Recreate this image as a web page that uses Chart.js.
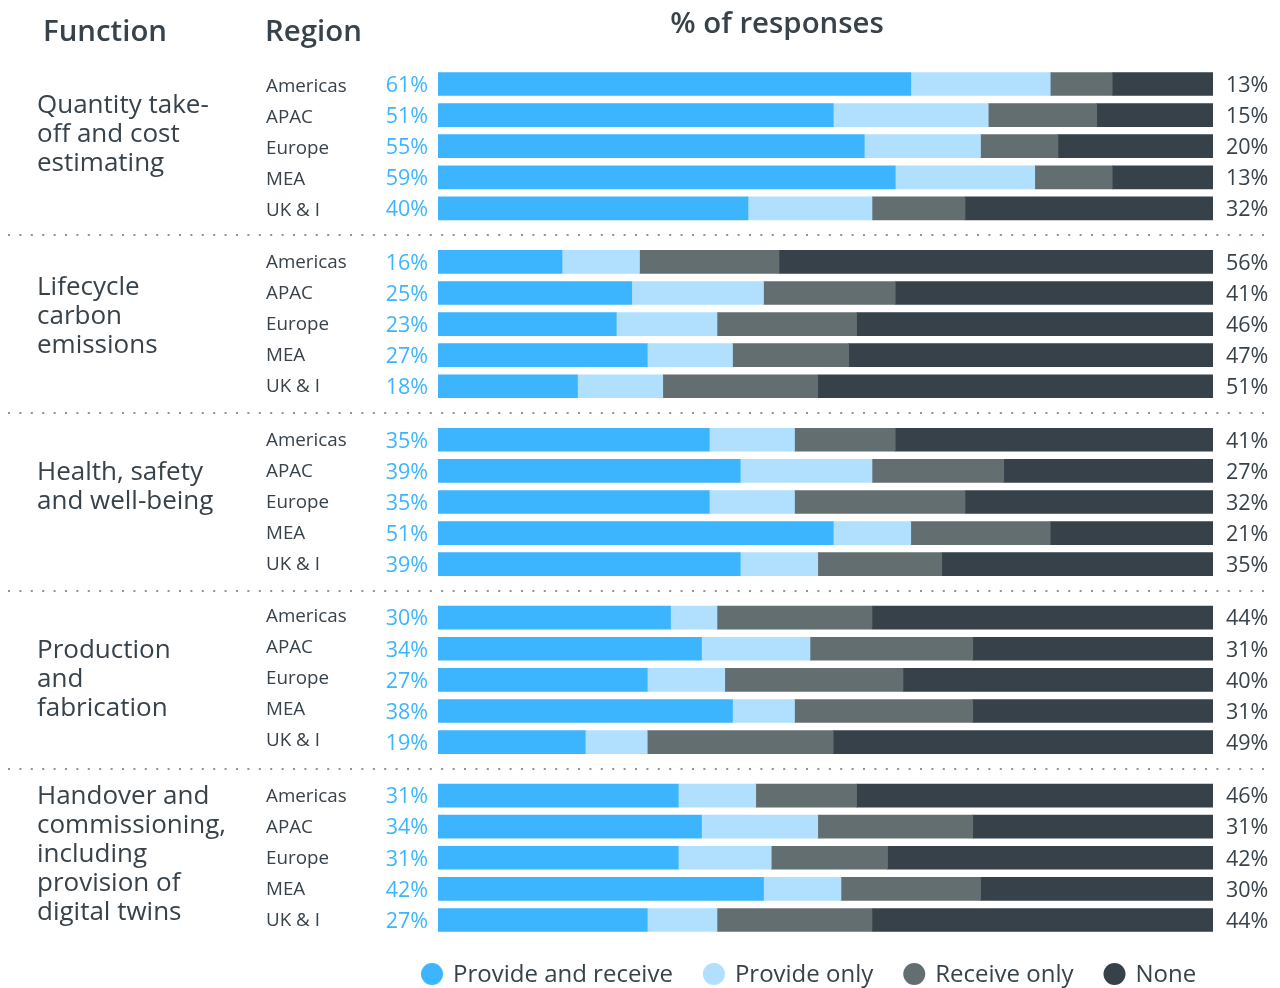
<!DOCTYPE html>
<html>
<head>
<meta charset="utf-8">
<title>% of responses by function and region</title>
<script src="https://cdn.jsdelivr.net/npm/chart.js@4.4.1/dist/chart.umd.min.js"></script>
<style>
  html, body { margin: 0; padding: 0; background: #ffffff; }
  canvas { display: block; }
</style>
</head>
<body>
<canvas id="chart" width="1280" height="988"></canvas>
<script>
// ---- Data ----
const regions = ['Americas', 'APAC', 'Europe', 'MEA', 'UK & I'];

const functionLabels = [
  ['Quantity take-', 'off and cost', 'estimating'],
  ['Lifecycle', 'carbon', 'emissions'],
  ['Health, safety', 'and well-being'],
  ['Production', 'and', 'fabrication'],
  ['Handover and', 'commissioning,', 'including', 'provision of', 'digital twins']
];

const seriesNames = ['Provide and receive', 'Provide only', 'Receive only', 'None'];

// one value per row: 5 functions x 5 regions, in reading order
const provideAndReceive = [61, 51, 55, 59, 40,  16, 25, 23, 27, 18,  35, 39, 35, 51, 39,  30, 34, 27, 38, 19,  31, 34, 31, 42, 27];
const provideOnly       = [18, 20, 15, 18, 16,  10, 17, 13, 11, 11,  11, 17, 11, 10, 10,   6, 14, 10,  8,  8,  10, 15, 12, 10,  9];
const receiveOnly       = [ 8, 14, 10, 10, 12,  18, 17, 18, 15, 20,  13, 17, 22, 18, 16,  20, 21, 23, 23, 24,  13, 20, 15, 18, 20];
const noneValues        = [13, 15, 20, 13, 32,  56, 41, 46, 47, 51,  41, 27, 32, 21, 35,  44, 31, 40, 31, 49,  46, 31, 42, 30, 44];

// ---- Styling / layout ----
const COLORS = ['#3db5fe', '#b0e0fd', '#636e70', '#36414a'];
const TEXT = '#37424a';
const BLUE_TEXT = '#3db5fe';
const FONT = "'Open Sans', 'Noto Sans', sans-serif";

const GROUP_STEP = 5.72;        // distance between the first rows of two functions (in row units)
const ROW_PX = 31.1;            // pixels per row unit
const TOP_ROW_Y = 84;           // centre of the first bar
const nGroups = functionLabels.length;
const nRegions = regions.length;

const rowPos = (g, r) => g * GROUP_STEP + r;
const positions = [];
for (let g = 0; g < nGroups; g++) for (let r = 0; r < nRegions; r++) positions.push(rowPos(g, r));

const Y_MIN = -0.5;
const Y_MAX = rowPos(nGroups - 1, nRegions - 1) + 0.5;
const PAD_TOP = TOP_ROW_Y - 0.5 * ROW_PX;
const PAD_BOTTOM = 988 - PAD_TOP - (Y_MAX - Y_MIN) * ROW_PX;

// baseline of first line of each function label, relative to its first bar centre
const FUNCTION_LABEL_OFFSET = [29, 33, 40, 40, 8];
const FUNCTION_LINE_H = 29.2;
// baseline of region names, relative to the bar centre, per function block
const REGION_BASELINE = [8, 6, 6, 4, 6];

const seriesValues = [provideAndReceive, provideOnly, receiveOnly, noneValues];

const datasets = seriesValues.map((vals, k) => ({
  label: seriesNames[k],
  data: vals.map((v, i) => ({ x: v, y: positions[i] })),
  backgroundColor: COLORS[k],
  borderWidth: 0,
  barThickness: 23,
  stack: 'responses'
}));

const annotate = {
  id: 'annotate',
  beforeDatasetsDraw(chart) {
    const ctx = chart.ctx;
    const y = chart.scales.y;
    ctx.save();
    ctx.strokeStyle = '#8d959b';
    ctx.lineWidth = 2;
    ctx.setLineDash([2, 9.4]);
    for (let g = 0; g < nGroups - 1; g++) {
      const py = Math.round(y.getPixelForValue((rowPos(g, nRegions - 1) + rowPos(g + 1, 0)) / 2));
      ctx.beginPath();
      ctx.moveTo(8, py);
      ctx.lineTo(1270, py);
      ctx.stroke();
    }
    ctx.restore();
  },
  afterDraw(chart) {
    const ctx = chart.ctx;
    const y = chart.scales.y;
    ctx.save();
    ctx.textBaseline = 'alphabetic';

    // headers
    ctx.fillStyle = TEXT;
    ctx.font = `600 29.4px ${FONT}`;
    ctx.textAlign = 'left';
    ctx.fillText('Function', 43, 41);
    ctx.fillText('Region', 265, 41);
    ctx.textAlign = 'center';
    ctx.fillText('% of responses', 777, 33);

    // function labels
    ctx.textAlign = 'left';
    ctx.font = `400 26px ${FONT}`;
    functionLabels.forEach((lines, g) => {
      const base = y.getPixelForValue(rowPos(g, 0)) + FUNCTION_LABEL_OFFSET[g];
      lines.forEach((t, j) => ctx.fillText(t, 37, base + j * FUNCTION_LINE_H));
    });

    // region labels, left and right percentages
    const pctSize = 21.5;
    positions.forEach((p, i) => {
      const py = y.getPixelForValue(p);
      const g = Math.floor(i / nRegions);
      ctx.fillStyle = TEXT;
      ctx.textAlign = 'left';
      ctx.font = `400 18.8px ${FONT}`;
      ctx.fillText(regions[i % nRegions], 266, py + REGION_BASELINE[g]);

      ctx.font = `400 ${pctSize}px ${FONT}`;
      ctx.fillStyle = BLUE_TEXT;
      ctx.textAlign = 'right';
      ctx.fillText(provideAndReceive[i] + '%', 428, py + 0.36 * pctSize);

      ctx.fillStyle = TEXT;
      ctx.textAlign = 'left';
      ctx.fillText(noneValues[i] + '%', 1226, py + 0.36 * pctSize);
    });

    // legend
    ctx.font = `400 24px ${FONT}`;
    ctx.textAlign = 'left';
    let cx = 432;
    const ly = 974;
    seriesNames.forEach((name, k) => {
      ctx.fillStyle = COLORS[k];
      ctx.beginPath();
      ctx.arc(cx, ly, 11, 0, Math.PI * 2);
      ctx.fill();
      ctx.fillStyle = TEXT;
      ctx.fillText(name, cx + 21, ly + 8);
      cx += 21 + ctx.measureText(name).width + 41;
    });
    ctx.restore();
  }
};

new Chart(document.getElementById('chart'), {
  type: 'bar',
  data: { datasets },
  options: {
    indexAxis: 'y',
    responsive: false,
    animation: false,
    devicePixelRatio: 1,
    layout: { padding: { left: 438, right: 67, top: PAD_TOP, bottom: PAD_BOTTOM } },
    scales: {
      x: { type: 'linear', min: 0, max: 100, stacked: true, display: false, offset: false },
      y: { type: 'linear', reverse: true, min: Y_MIN, max: Y_MAX, display: false, offset: false }
    },
    plugins: {
      legend: { display: false },
      tooltip: { enabled: false }
    }
  },
  plugins: [annotate]
});
</script>
</body>
</html>
